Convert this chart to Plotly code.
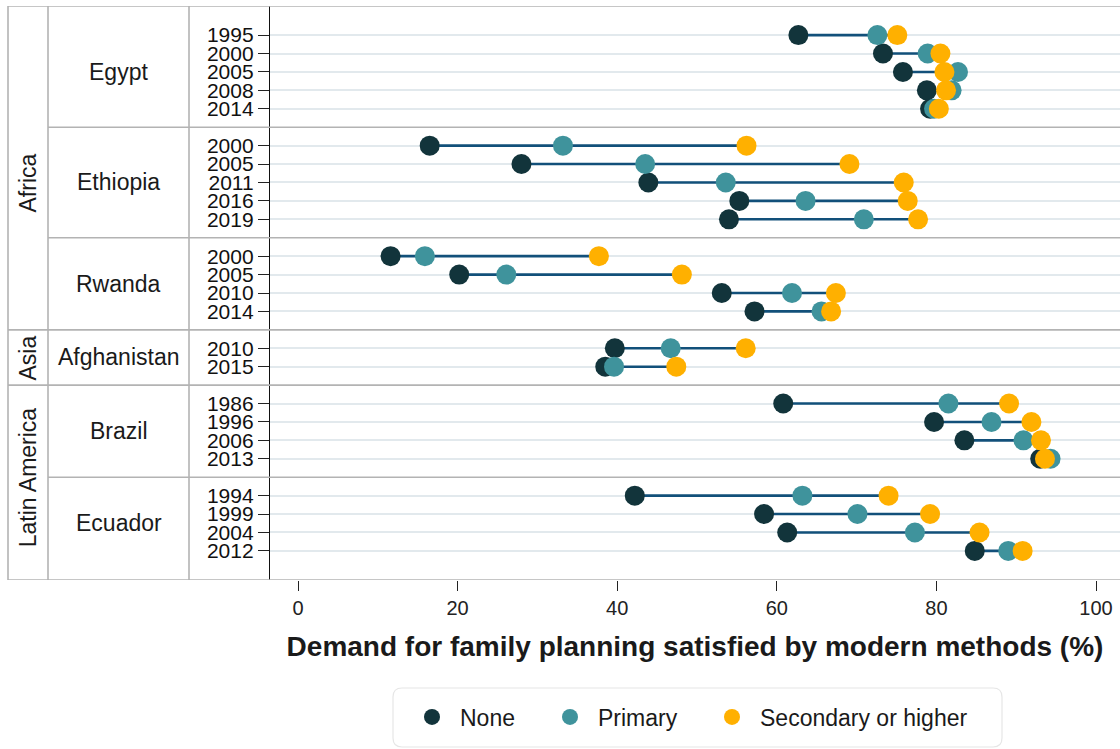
import plotly.graph_objects as go

# ---- data -------------------------------------------------------------
region = ["Africa"] * 14 + ["Asia"] * 2 + ["Latin America"] * 8
country = (["Egypt"] * 5 + ["Ethiopia"] * 5 + ["Rwanda"] * 4 +
           ["Afghanistan"] * 2 + ["Brazil"] * 4 + ["Ecuador"] * 4)
year = ["1995", "2000", "2005", "2008", "2014",
        "2000", "2005", "2011", "2016", "2019",
        "2000", "2005", "2010", "2014",
        "2010", "2015",
        "1986", "1996", "2006", "2013",
        "1994", "1999", "2004", "2012"]
none_edu = [62.7, 73.3, 75.8, 78.8, 79.2,
            16.5, 28.0, 43.9, 55.3, 54.0,
            11.6, 20.2, 53.1, 57.2,
            39.7, 38.5,
            60.8, 79.7, 83.5, 93.0,
            42.2, 58.4, 61.3, 84.8]
primary_edu = [72.6, 78.9, 82.7, 81.9, 79.7,
               33.2, 43.5, 53.6, 63.6, 70.9,
               15.9, 26.1, 61.9, 65.6,
               46.7, 39.6,
               81.5, 86.9, 90.9, 94.3,
               63.2, 70.1, 77.3, 89.0]
secondary_edu = [75.1, 80.5, 81.0, 81.2, 80.3,
                 56.2, 69.1, 75.9, 76.4, 77.7,
                 37.7, 48.1, 67.4, 66.8,
                 56.1, 47.4,
                 89.1, 91.9, 93.1, 93.6,
                 74.0, 79.2, 85.4, 90.8]
x_ticks = [0, 20, 40, 60, 80, 100]

# ---- styling ----------------------------------------------------------
FONT = "Liberation Sans, Arial, Helvetica, sans-serif"
C_NONE, C_PRIM, C_SEC = "#12343b", "#3f939c", "#ffb000"
C_SEG = "#12507a"
C_BORDER = "#b3b3b3"
C_GRID = "#e2e9ed"
TEXT = "#1a1a1a"

# ---- row positions: one blank row between countries ----------------
pos = []
country_breaks = []  # (y, is_region_break)
p = 0
for i in range(len(year)):
    if i > 0 and country[i] != country[i - 1]:
        country_breaks.append((p, region[i] != region[i - 1]))
        p += 1
    pos.append(p)
    p += 1
pad = 1.58
y_top, y_bot = pos[0] - pad, pos[-1] + pad

W_PLOT = 850.0


def px_to_paper(px):
    return (px - 270) / W_PLOT


# ---- traces -----------------------------------------------------------
seg_x, seg_y = [], []
for yv, a, b, c in zip(pos, none_edu, primary_edu, secondary_edu):
    seg_x += [min(a, b, c), max(a, b, c), None]
    seg_y += [yv, yv, None]

fig = go.Figure()
fig.add_trace(go.Scatter(x=seg_x, y=seg_y, mode="lines",
                         line=dict(color=C_SEG, width=2.6),
                         showlegend=False, hoverinfo="skip"))

# each education level gets its own one-entry legend so the keys can be spaced
series = [("None", none_edu, C_NONE, "legend", 404),
          ("Primary", primary_edu, C_PRIM, "legend2", 542),
          ("Secondary or higher", secondary_edu, C_SEC, "legend3", 704)]
legend_layouts = {}
for name, vals, col, leg, leg_x in series:
    fig.add_trace(go.Scatter(x=vals, y=pos, mode="markers", name=name,
                             marker=dict(size=20, color=col, line=dict(width=0)),
                             cliponaxis=False, legend=leg))
    legend_layouts[leg] = dict(orientation="h", x=px_to_paper(leg_x), xanchor="left",
                               y=(580 - 717) / 574.0, yanchor="middle",
                               font=dict(family=FONT, size=23, color=TEXT),
                               itemwidth=46, bgcolor="rgba(0,0,0,0)",
                               borderwidth=0, itemsizing="trace")

# ---- table of labels at the left -------------------------------------
shapes = []
annotations = []

X_OUT = px_to_paper(8)
X_REG = px_to_paper(48)
X_CTY = px_to_paper(189)

line_style = dict(color=C_BORDER, width=1.6)
# outer top / bottom rules
for yv in (y_top, y_bot):
    shapes.append(dict(type="line", xref="paper", yref="y", x0=X_OUT, x1=1,
                       y0=yv, y1=yv, line=line_style))
# rules between countries / regions
for yv, is_region in country_breaks:
    shapes.append(dict(type="line", xref="paper", yref="y",
                       x0=X_OUT if is_region else X_REG, x1=1,
                       y0=yv, y1=yv, line=line_style))
# vertical column rules
for xv in (X_OUT, X_REG, X_CTY):
    shapes.append(dict(type="line", xref="paper", yref="y", x0=xv, x1=xv,
                       y0=y_top, y1=y_bot, line=line_style))

# country labels (centred on their rows)
country_order = []
for c in country:
    if c not in country_order:
        country_order.append(c)
country_center = {}
for c in country_order:
    ys = [pv for pv, cc in zip(pos, country) if cc == c]
    country_center[c] = (ys[0] + ys[-1]) / 2
    annotations.append(dict(text=c, xref="paper", yref="y",
                            x=px_to_paper(118.5), y=country_center[c],
                            showarrow=False, xanchor="center", yanchor="middle",
                            font=dict(family=FONT, size=23, color=TEXT)))

# region labels (rotated, centred on the middle country)
region_order = []
for r in region:
    if r not in region_order:
        region_order.append(r)
for r in region_order:
    cs = [c for c in country_order if region[country.index(c)] == r]
    n = len(cs)
    if n % 2 == 1:
        yc = country_center[cs[n // 2]]
    else:
        yc = (country_center[cs[n // 2 - 1]] + country_center[cs[n // 2]]) / 2
    annotations.append(dict(text=r, xref="paper", yref="y",
                            x=px_to_paper(28), y=yc, textangle=-90,
                            showarrow=False, xanchor="center", yanchor="middle",
                            font=dict(family=FONT, size=23, color=TEXT)))

# rounded frame around the legend
lx0, lx1 = px_to_paper(393), px_to_paper(1002)
ly0, ly1 = (580 - 688) / 574.0, (580 - 747) / 574.0
rx, ry = 9 / W_PLOT, 9 / 574.0
legend_path = (f"M {lx0 + rx},{ly0} L {lx1 - rx},{ly0} Q {lx1},{ly0} {lx1},{ly0 - ry} "
               f"L {lx1},{ly1 + ry} Q {lx1},{ly1} {lx1 - rx},{ly1} "
               f"L {lx0 + rx},{ly1} Q {lx0},{ly1} {lx0},{ly1 + ry} "
               f"L {lx0},{ly0 - ry} Q {lx0},{ly0} {lx0 + rx},{ly0} Z")
shapes.append(dict(type="path", xref="paper", yref="paper", path=legend_path,
                   line=dict(color="#e6e6e6", width=1.2), fillcolor="white",
                   layer="below"))

fig.update_layout(
    width=1120, height=749,
    margin=dict(l=270, r=0, t=6, b=169),
    plot_bgcolor="white", paper_bgcolor="white",
    font=dict(family=FONT, color=TEXT),
    shapes=shapes, annotations=annotations,
    xaxis=dict(range=[-3.51, 103.0], tickvals=x_ticks,
               ticks="outside", ticklen=10, tickwidth=1.2, tickcolor="#222222",
               showgrid=False, zeroline=False, showline=False,
               tickfont=dict(family=FONT, size=20, color="#222222"),
               ticklabelstandoff=0,
               title=dict(text="<b>Demand for family planning satisfied by modern methods (%)</b>",
                          font=dict(family=FONT, size=28, color=TEXT), standoff=18)),
    yaxis=dict(range=[y_bot, y_top], tickvals=pos, ticktext=year,
               ticks="outside", ticklen=11, tickwidth=1.2, tickcolor="#222222",
               showgrid=True, gridcolor=C_GRID, gridwidth=1.6,
               zeroline=False, showline=True, linecolor="#111111", linewidth=1.3,
               tickfont=dict(family=FONT, size=21, color="#111111")),
    showlegend=True,
    **legend_layouts,
)

fig.write_html("out.html")
